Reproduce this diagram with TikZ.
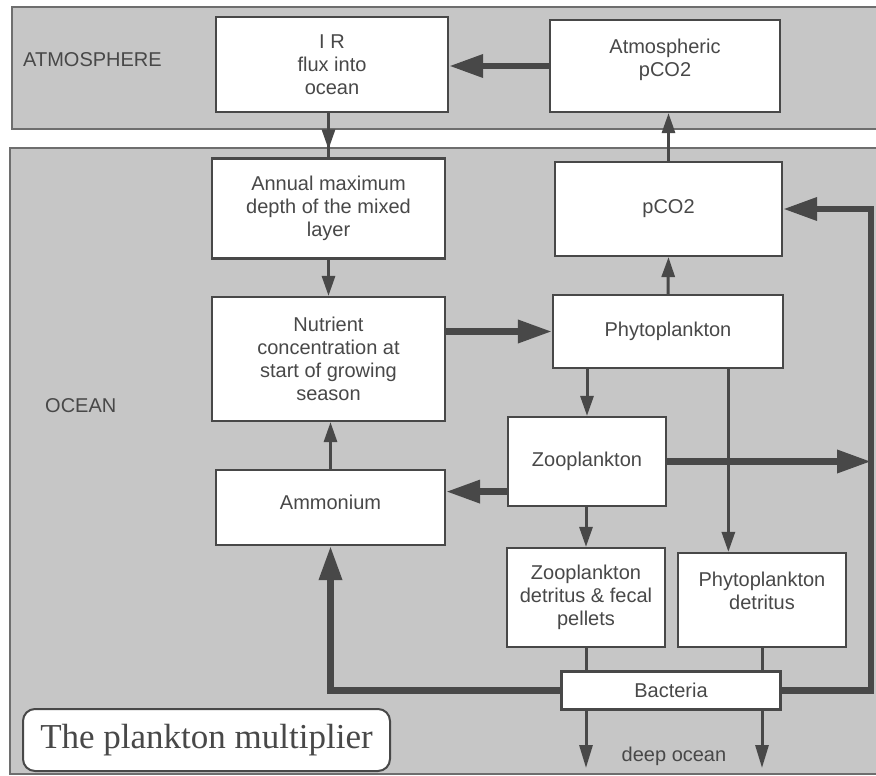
\documentclass[tikz,border=0pt]{standalone}
\usepackage{fontspec}
\setmainfont{Liberation Sans}
\newfontfamily\titlefont{Liberation Serif}
\definecolor{band}{RGB}{198, 198, 198}
\definecolor{rim}{RGB}{110, 110, 110}
\definecolor{ink}{RGB}{72, 72, 72}
\usetikzlibrary{calc,arrows.meta}

\begin{document}
\begin{tikzpicture}[x=1pt, y=-1pt,
    box/.style={draw=ink, line width=2.2pt, fill=white, text=ink, align=center, inner sep=0pt, font={\fontsize{20}{23}\selectfont}},
    bandtext/.style={text=ink, inner sep=0pt, font={\fontsize{20}{23}\selectfont}},
    link/.style={draw=ink, line width=3pt},
    flow/.style={link, -{Triangle[length=20pt, width=13pt]}},
    bigflow/.style={draw=ink, line width=6.5pt, -{Triangle[length=34pt, width=22pt]}}]
                \useasboundingbox (0,0) rectangle (876,776);
                \draw[rim, fill=band, line width=2pt] (12,7) rectangle (890,129);
                \draw[rim, fill=band, line width=2pt] (10,148) rectangle (890,774);
                \node[bandtext, anchor=west] (atmos) at (23,60) {ATMOSPHERE};
                \node[bandtext, anchor=west] (ocean) at (45,406) {OCEAN};
                \node[bandtext] (deep) at (674,756) {deep ocean};
                \node[box, minimum width=232pt, minimum height=95pt] (ir) at (332,64.5) {I R\\flux into\\ocean};
                \node[box, minimum width=230pt, minimum height=92pt, text depth=16pt] (atm) at (665,66) {Atmospheric\\pCO2};
                \node[box, minimum width=233pt, minimum height=100pt] (mix) at (328.5,208.5) {Annual maximum\\depth of the mixed\\layer};
                \node[box, minimum width=227pt, minimum height=94pt] (pco) at (668.5,209) {pCO2};
                \node[box, minimum width=233pt, minimum height=124pt] (nut) at (328.5,359) {Nutrient\\concentration at\\start of growing\\season};
                \node[box, minimum width=230pt, minimum height=73pt] (phy) at (668,331.5) {Phytoplankton};
                \node[box, minimum width=158pt, minimum height=89pt] (zoo) at (587,461.5) {Zooplankton};
                \node[box, minimum width=229pt, minimum height=75pt, text depth=11pt] (amm) at (330.5,507.5) {Ammonium};
                \node[box, minimum width=158pt, minimum height=99pt] (zdet) at (586,597.5) {Zooplankton\\detritus \& fecal\\pellets};
                \node[box, minimum width=168pt, minimum height=94pt, text depth=18pt] (pdet) at (762,600) {Phytoplankton\\detritus};
                \node[box, minimum width=219pt, minimum height=38pt] (bac) at (671,690.5) {Bacteria};
                \node[draw=ink, line width=2pt, fill=white, rounded corners=12pt, minimum width=367pt, minimum height=62pt, text=ink, font={\titlefont\fontsize{35}{40}\selectfont}] (title) at (206.5,740) {The plankton multiplier};
                \coordinate (edge) at (871,0);
                \coordinate (floor) at (0,768);
                \coordinate (pd) at ($(phy.south west)!.76!(phy.south east)$);
                \coordinate (zl) at ($(zoo.south west)!.17!(zoo.north west)$);
                \draw[bigflow] (atm.west) -- (atm.west -| ir.east);
                \draw[link] (ir.south -| mix.north) -- (mix.north);
                \draw[flow, shorten >=8pt] (ir.south -| mix.north) -- (mix.north);
                \draw[flow] (pco.north) -- (pco.north |- atm.south);
                \draw[flow] (mix.south) -- (nut.north);
                \draw[flow] (phy.north) -- (pco.south);
                \draw[bigflow] (phy.west -| nut.east) -- (phy.west);
                \draw[flow] (phy.south -| zoo.north) -- (zoo.north);
                \draw[flow] (pd) -- (pd |- pdet.north);
                \draw[bigflow] (zoo.east) -- (zoo.east -| edge);
                \draw[bigflow] (zl) -- (zl -| amm.east);
                \draw[flow] (zoo.south -| zdet.north) -- (zdet.north);
                \draw[flow] (amm.north) -- (amm.north |- nut.south);
                \draw[link] (zdet.south) -- (zdet.south |- bac.north);
                \draw[link] (pdet.south) -- (pdet.south |- bac.north);
                \draw[bigflow] (bac.west) -- (bac.west -| amm.south) -- (amm.south);
                \draw[bigflow] (bac.east) -- (bac.east -| edge) -- (edge |- pco.east) -- (pco.east);
                \draw[flow, -{Triangle[length=23pt, width=13pt]}] (bac.south -| zdet.south) -- (zdet.south |- floor);
                \draw[flow, -{Triangle[length=23pt, width=13pt]}] (bac.south -| pdet.south) -- (pdet.south |- floor);
            \end{tikzpicture}
\end{document}
